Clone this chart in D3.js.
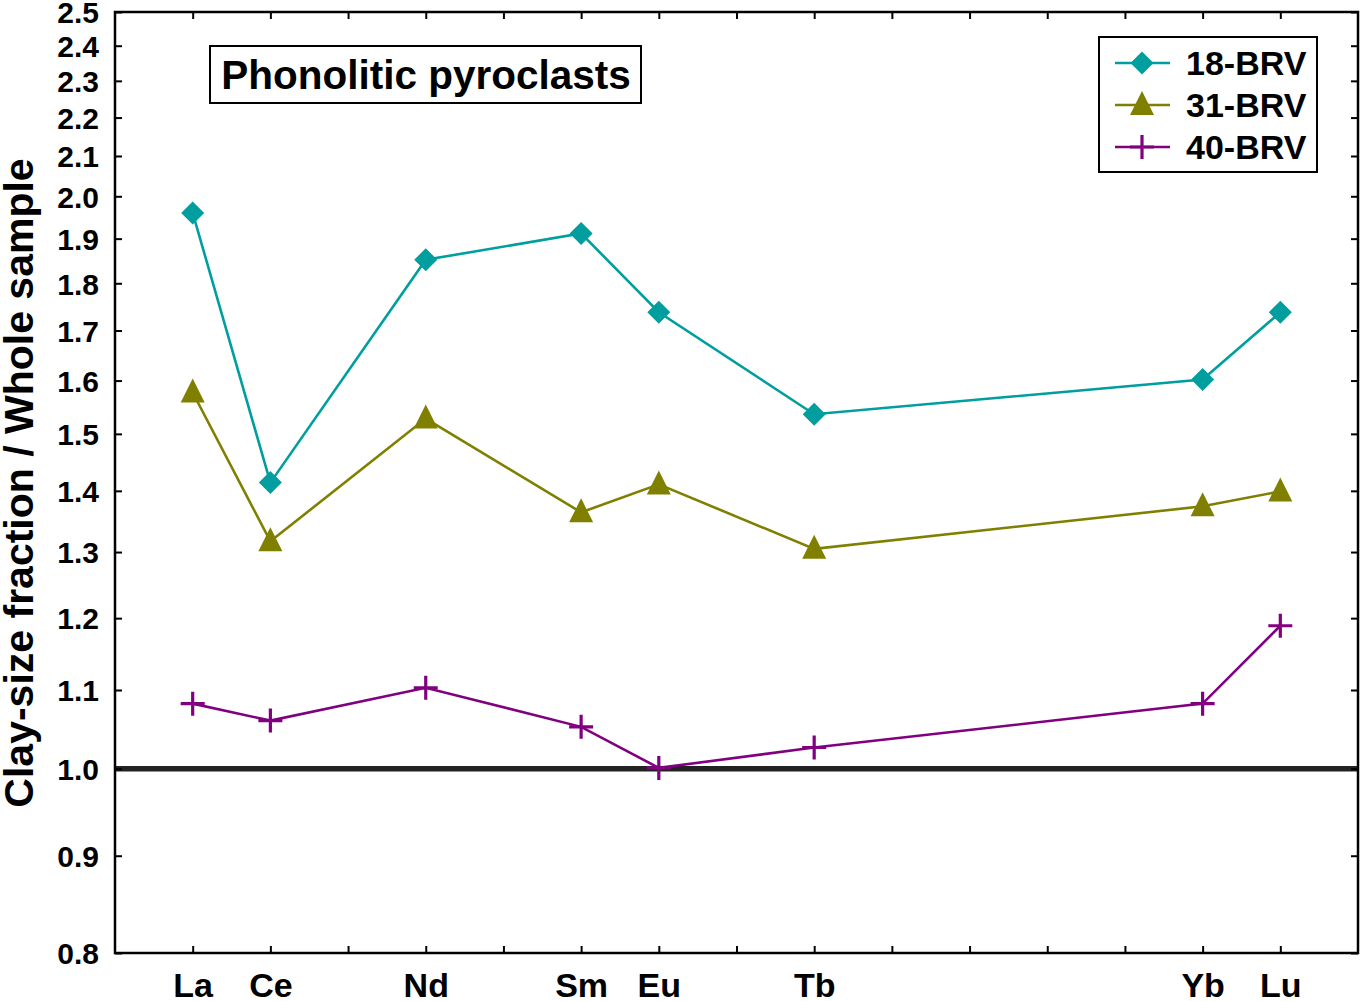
<!DOCTYPE html>
<html>
<head>
<meta charset="utf-8">
<script src="https://cdn.jsdelivr.net/npm/d3@7"></script>
<style>
  html, body { margin: 0; padding: 0; background: #fff; }
  svg { display: block; font-family: "Liberation Sans", Arial, Helvetica, sans-serif; font-weight: bold; }
</style>
</head>
<body>
<svg id="chart" width="1361" height="1001"></svg>
<script>
// REE ratios: clay-size fraction relative to whole sample
const elements = ["La", "Ce", "Nd", "Sm", "Eu", "Tb", "Yb", "Lu"];
const atomicNumbers = [57, 58, 60, 62, 63, 65, 70, 71];

const brv18 = [1.960, 1.414, 1.852, 1.912, 1.738, 1.536, 1.602, 1.738];
const brv31 = [1.577, 1.317, 1.528, 1.364, 1.411, 1.305, 1.374, 1.399];
const brv40 = [1.082, 1.060, 1.103, 1.052, 1.001, 1.026, 1.082, 1.189];

const seriesNames = ["18-BRV", "31-BRV", "40-BRV"];
const seriesColors = ["#009e9e", "#808000", "#800080"];
const seriesShapes = ["diamond", "triangle", "plus"];

const yTickValues = [0.8, 0.9, 1.0, 1.1, 1.2, 1.3, 1.4, 1.5, 1.6, 1.7, 1.8, 1.9, 2.0, 2.1, 2.2, 2.3, 2.4, 2.5];
const xTickValues = d3.range(57, 72);
const panelTitle = "Phonolitic pyroclasts";
const yTitle = "Clay-size fraction / Whole sample";

const series = seriesNames.map((name, i) => ({
  name,
  color: seriesColors[i],
  shape: seriesShapes[i],
  values: [brv18, brv31, brv40][i]
}));

const svg = d3.select("#chart");
const plotLeft = 115, plotRight = 1358, plotTop = 12, plotBottom = 953;

const x = d3.scaleLinear().domain([56, 72]).range([plotLeft, plotRight]);
const y = d3.scaleLog().domain([0.8, 2.5]).range([plotBottom, plotTop]);

// marker path generators
function markerPath(shape) {
  if (shape === "diamond") return "M0,-11.5L11.5,0L0,11.5L-11.5,0Z";
  if (shape === "triangle") return "M0,-14L12,10L-12,10Z";
  return "M-12,0L12,0M0,-12L0,12";
}
function drawMarker(g, shape, color) {
  const p = g.append("path").attr("d", markerPath(shape));
  if (shape === "plus") {
    p.attr("fill", "none").attr("stroke", color).attr("stroke-width", 3.2);
  } else {
    p.attr("fill", color).attr("stroke", "none");
  }
}

// reference line at ratio = 1
svg.append("line")
  .attr("x1", plotLeft).attr("x2", plotRight)
  .attr("y1", y(1)).attr("y2", y(1))
  .attr("stroke", "#222").attr("stroke-width", 5.5);

// axes with inward ticks
const symbolOf = z => { const i = atomicNumbers.indexOf(z); return i >= 0 ? elements[i] : ""; };

const axisL = svg.append("g").attr("transform", `translate(${plotLeft},0)`)
  .call(d3.axisLeft(y).tickValues(yTickValues).tickFormat(d3.format(".1f"))
    .tickSizeInner(-7).tickSizeOuter(0).tickPadding(16));
const axisR = svg.append("g").attr("transform", `translate(${plotRight},0)`)
  .call(d3.axisRight(y).tickValues(yTickValues).tickFormat("")
    .tickSizeInner(-7).tickSizeOuter(0));
const axisB = svg.append("g").attr("transform", `translate(0,${plotBottom})`)
  .call(d3.axisBottom(x).tickValues(xTickValues).tickFormat(symbolOf)
    .tickSizeInner(-7).tickSizeOuter(0).tickPadding(20));
const axisT = svg.append("g").attr("transform", `translate(0,${plotTop})`)
  .call(d3.axisTop(x).tickValues(xTickValues).tickFormat("")
    .tickSizeInner(-7).tickSizeOuter(0));

[axisL, axisR, axisB, axisT].forEach(a => {
  a.select(".domain").remove();
  a.attr("font-family", null).attr("font-size", null);
  a.selectAll(".tick line").attr("stroke", "#000").attr("stroke-width", 2);
  a.selectAll("text").attr("fill", "#000").attr("font-weight", "bold");
});
axisL.selectAll("text").attr("font-size", 30).attr("dy", "0.36em");
axisB.selectAll("text").attr("font-size", 34);

// plot frame
svg.append("rect")
  .attr("x", plotLeft).attr("y", plotTop)
  .attr("width", plotRight - plotLeft).attr("height", plotBottom - plotTop)
  .attr("fill", "none").attr("stroke", "#000").attr("stroke-width", 2.5);

// series lines and markers
const line = d3.line().x(d => x(d.z)).y(d => y(d.v));
series.forEach(s => {
  const pts = s.values.map((v, i) => ({ z: atomicNumbers[i], v }));
  svg.append("path").datum(pts)
    .attr("d", line)
    .attr("fill", "none").attr("stroke", s.color).attr("stroke-width", 2.6);
  pts.forEach(p => {
    const g = svg.append("g").attr("transform", `translate(${x(p.z)},${y(p.v)})`);
    drawMarker(g, s.shape, s.color);
  });
});

// y axis title
svg.append("text")
  .attr("transform", `translate(33,483) rotate(-90)`)
  .attr("text-anchor", "middle")
  .attr("font-size", 41)
  .attr("fill", "#000")
  .text(yTitle);

// panel title box
const titleG = svg.append("g");
titleG.append("rect")
  .attr("x", 210).attr("y", 46).attr("width", 431).attr("height", 57)
  .attr("fill", "#fff").attr("stroke", "#000").attr("stroke-width", 2);
titleG.append("text")
  .attr("x", 426).attr("y", 89)
  .attr("text-anchor", "middle")
  .attr("font-size", 40.5)
  .attr("fill", "#000")
  .text(panelTitle);

// legend
const legend = svg.append("g");
legend.append("rect")
  .attr("x", 1099).attr("y", 37).attr("width", 218).attr("height", 135)
  .attr("fill", "#fff").attr("stroke", "#000").attr("stroke-width", 2);
series.forEach((s, i) => {
  const cy = 63 + i * 42;
  legend.append("line")
    .attr("x1", 1115).attr("x2", 1170).attr("y1", cy).attr("y2", cy)
    .attr("stroke", s.color).attr("stroke-width", 2.6);
  const g = legend.append("g").attr("transform", `translate(1142,${cy})`);
  drawMarker(g, s.shape, s.color);
  legend.append("text")
    .attr("x", 1186).attr("y", cy).attr("dy", "0.36em")
    .attr("font-size", 34).attr("fill", "#000")
    .text(s.name);
});
</script>
</body>
</html>
